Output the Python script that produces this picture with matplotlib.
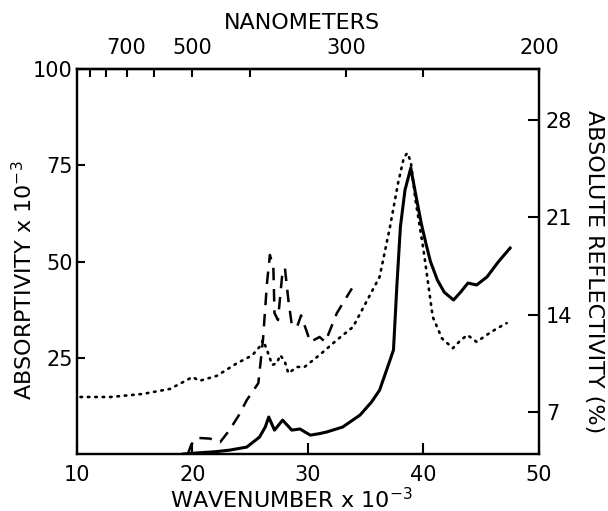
import numpy as np
import matplotlib
matplotlib.use("Agg")
from matplotlib import pyplot as plt

# absorptivity x 10^-3 (solid), left axis
solid_wn = [19.2, 20.5, 22.0, 23.2, 24.7, 25.8, 26.3, 26.6, 27.1, 27.8, 28.6, 29.3, 30.2, 31.0,
            31.6, 33.0, 34.5, 35.5, 36.2, 37.0, 37.4, 37.7, 38.0, 38.4, 38.9, 39.3, 39.8, 40.2,
            40.6, 41.2, 41.8, 42.6, 43.2, 43.85, 44.6, 45.5, 46.5, 47.5]
solid_val = [0, 0.3, 0.6, 1.0, 1.8, 4.4, 7.0, 9.6, 6.2, 8.8, 6.2, 6.5, 4.9, 5.3,
             5.7, 7.0, 10.1, 13.5, 16.6, 23.5, 27.0, 44.0, 59.0, 68.6, 74.3, 67.8, 60.0, 54.8,
             50.0, 45.2, 42.0, 40.0, 42.0, 44.4, 43.9, 46.0, 50.0, 53.5]

# second absorptivity curve (dashed), left axis
dash_wn = [19.6, 19.9, 20.4, 21.5, 22.4, 23.2, 24.0, 24.7, 25.7, 26.1, 26.45, 26.7, 27.0, 27.1,
           27.4, 27.75, 28.0, 28.3, 28.6, 29.05, 29.4, 29.75, 30.2, 31.0, 31.5, 32.5, 33.8]
dash_val = [0, 2.5, 4.2, 4.0, 3.1, 6.2, 10.0, 14.0, 18.4, 29.6, 44.4, 51.7, 48.6, 36.6,
            34.8, 46.0, 48.3, 40.0, 33.5, 33.0, 36.0, 33.0, 29.1, 30.4, 29.1, 36.6, 43.0]

# absolute reflectivity % (dotted), right axis
dot_wn = [10.3, 12.9, 15.7, 18.05, 19.2, 20.0, 20.6, 22.1, 23.85, 24.7, 25.2, 25.8, 26.1, 26.45,
          26.9, 27.3, 27.6, 28.0, 28.3, 29.05, 29.7, 31.0, 32.5, 33.9, 35.6, 36.2, 37.1, 37.8,
          38.3, 38.6, 38.9, 39.3, 40.0, 40.8, 41.6, 42.55, 43.2, 43.8, 44.6, 45.5, 46.3, 47.2]
dot_val = [8.08, 8.08, 8.30, 8.66, 9.16, 9.52, 9.24, 9.60, 10.51, 10.87, 11.10, 11.68, 12.18, 11.46,
           10.38, 10.51, 11.10, 10.60, 9.79, 10.24, 10.24, 11.10, 12.18, 13.12, 15.78, 16.72, 20.32, 23.47,
           25.3, 25.63, 25.0, 22.26, 18.66, 13.84, 12.29, 11.59, 12.15, 12.54, 12.04, 12.56, 12.98, 13.39]

nm_ticks = [900, 800, 700, 600, 500, 400, 300, 250, 200]
nm_labels = ["", "", "700", "", "500", "", "300", "", "200"]

plt.rcParams['font.family'] = ['DejaVu Sans']
fig = plt.figure(figsize=(6.08, 5.11), dpi=100)
ax = fig.add_axes([77/608, 1-454/511, 462/608, 385/511])

ax.plot(solid_wn, solid_val, color='black', lw=2.2, solid_joinstyle='round')
ax.plot(dash_wn, dash_val, color='black', lw=1.8, linestyle=(0, (5, 3.5)))
ax.set_xlim(10, 50)
ax.set_ylim(0, 100)

ax2 = ax.twinx()
ax2.plot(dot_wn, dot_val, color='black', lw=1.9, linestyle=(0, (0.6, 2.2)), dash_capstyle='round')
ax2.set_ylim(3.98, 31.67)
ax2.set_yticks([7, 14, 21, 28])

ax.set_xticks([10, 20, 30, 40, 50])
ax.set_yticks([25, 50, 75, 100])
ax.tick_params(axis='x', direction='in', length=8, width=1.5, labelsize=15, pad=8, top=False)
ax.tick_params(axis='y', direction='in', length=6, width=1.5, labelsize=15, pad=3)
ax2.tick_params(axis='y', direction='in', length=8, width=1.5, labelsize=15, pad=5)

top = ax.secondary_xaxis('top', functions=(lambda x: 1e4/x, lambda x: 1e4/x))
top.set_xticks(nm_ticks, labels=nm_labels)
top.tick_params(direction='in', length=6, width=1.5, labelsize=15, pad=8)

for a in (ax, ax2):
    for s in a.spines.values():
        s.set_linewidth(1.6)
for s in top.spines.values():
    s.set_linewidth(1.6)

ax.text(0.465, -0.119, 'WAVENUMBER x 10$^{-3}$', transform=ax.transAxes,
        ha='center', va='center', fontsize=16)
ax.text(0.487, 1.119, 'NANOMETERS', transform=ax.transAxes,
        ha='center', va='center', fontsize=16)
ax.text(-0.115, 0.452, 'ABSORPTIVITY x 10$^{-3}$', transform=ax.transAxes,
        ha='center', va='center', fontsize=16, rotation=90)
ax.text(1.119, 0.475, 'ABSOLUTE REFLECTIVITY (%)', transform=ax.transAxes,
        ha='center', va='center', fontsize=16, rotation=-90)

fig.savefig("out.png", dpi=100)
